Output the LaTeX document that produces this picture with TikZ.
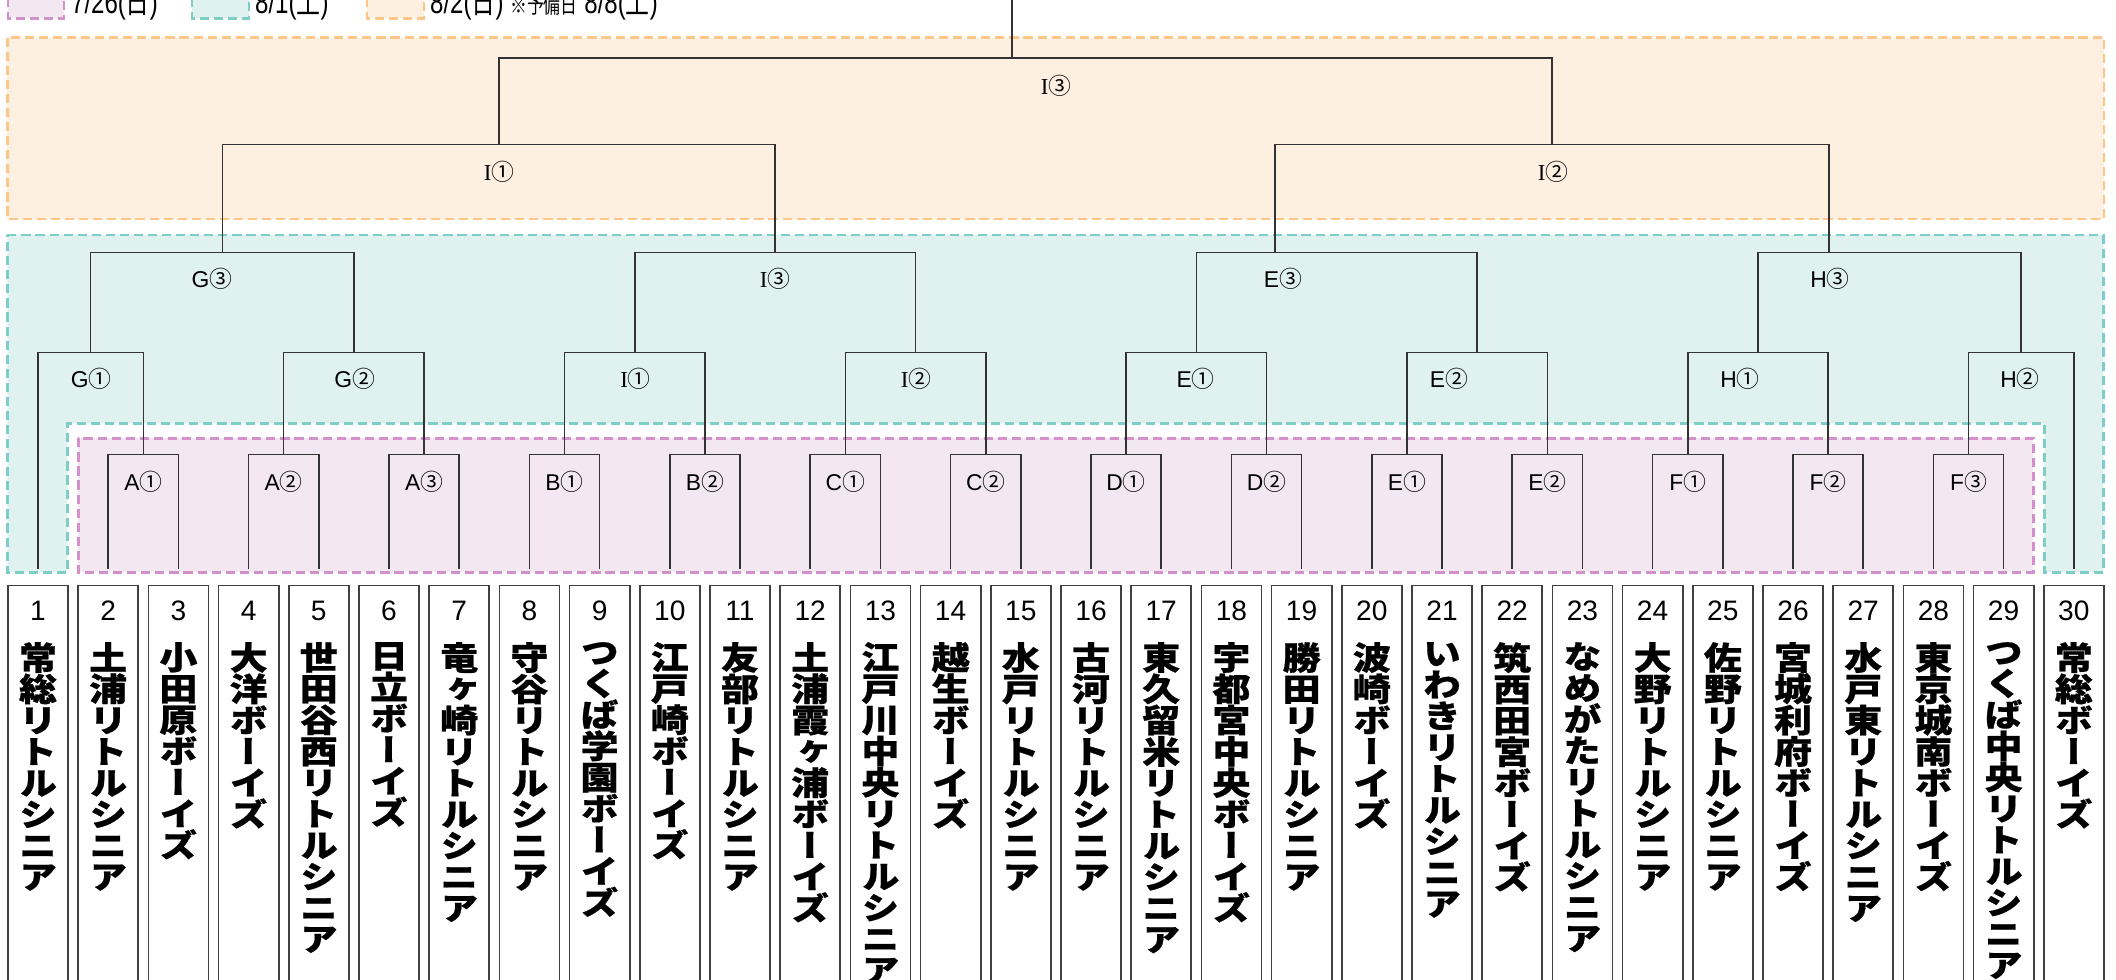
\documentclass[tikz,border=0pt]{standalone}
\usepackage{graphicx}
\usepackage{fontspec}
\setmainfont{Liberation Sans}
\newfontfamily\cjk{Noto Sans CJK JP}
\newfontfamily\tatefont{Noto Sans CJK JP}[RawFeature=+vert, BoldFeatures={FakeBold=0.6}]
\newfontfamily\romfont{Liberation Serif}
\newfontfamily\legendfont{Liberation Sans}[FakeStretch=0.75]
\newfontfamily\legendcjk{Noto Sans CJK JP}[FakeStretch=0.75]
\usetikzlibrary{positioning}

\definecolor{pinkline}{HTML}{D291C8}
\definecolor{pinkfill}{HTML}{F3E8F2}
\definecolor{tealline}{HTML}{7DCFC6}
\definecolor{tealfill}{HTML}{E0F2F0}
\definecolor{orangeline}{HTML}{FFC68A}
\definecolor{orangefill}{HTML}{FEF0E1}

% team names are set one character under the other
\makeatletter
\newcommand\tate[1]{\edef\tate@list{#1}\def\tate@go{\@tfor\tate@c:=}%
  \vtop{\baselineskip=8.9pt\lineskiplimit=-20pt\lineskip=0pt
    \expandafter\tate@go\tate@list\do{\hbox to 11pt{\hss\scalebox{1}[0.85]{\tate@c}\hss}}}}
\makeatother
\newcommand\rI{{\romfont I}}
\newcommand\cn[1]{{\cjk #1}}

\tikzstyle{team} = [rectangle, draw=black!75, line width=0.5pt, minimum width=0.6cm, minimum height=4.2cm, anchor=north, inner sep=0pt]
\tikzstyle{num} = [inner sep=0pt, text height=5.7pt, text depth=0pt, font=\fontsize{8}{9}\selectfont]
\tikzstyle{tname} = [inner sep=0pt, font=\tatefont\bfseries\fontsize{10.8}{12}\selectfont]
\tikzstyle{lab} = [inner sep=0pt, font=\fontsize{6.5}{7}\selectfont]
\tikzstyle{bline} = [draw=black!80, line width=0.45pt]
\tikzstyle{band} = [line width=0.75pt, dash pattern=on 2.6pt off 1.4pt]
\tikzstyle{legend} = [anchor=base west, inner sep=0pt, font=\legendfont\fontsize{9.1}{10}\selectfont]

\begin{document}
\begin{tikzpicture}[x=0.01cm, y=-0.01cm]
	\useasboundingbox (0,0) rectangle (2116,980);
	
	% date bands
	\filldraw [band, draw=orangeline, fill=orangefill] (7.3,37.7) rectangle (2104,219);
	\filldraw [band, draw=tealline, fill=tealfill] (7.3,235) -- (2103.3,235) -- (2103.3,572.3) -- (2044.3,572.3) -- (2044.3,423.3) -- (67.7,423.3) -- (67.7,572.3) -- (7.3,572.3) -- cycle;
	\filldraw [band, draw=pinkline, fill=pinkfill] (78.3,438.3) rectangle (2033.3,572.3);
	
	% legend
	\filldraw [band, draw=pinkline, fill=pinkfill] (8,-30) rectangle (64,18.3);
	\node (day1) [legend] at (70.5,14) {7/26({\legendcjk 日})};
	\filldraw [band, draw=tealline, fill=tealfill] (192,-30) rectangle (249,18.3);
	\node (day2) [legend] at (254.5,14) {8/1({\legendcjk 土})};
	\filldraw [band, draw=orangeline, fill=orangefill] (367,-30) rectangle (424,18.3);
	\node (day3) [legend] at (429.5,14) {8/2({\legendcjk 日}) {\legendcjk\fontsize{6.4}{7}\selectfont ※予備日} 8/8({\legendcjk 土})};
	
	% teams
	\foreach \nm [count=\i] in {常総リトルシニア, 土浦リトルシニア, 小田原ボーイズ, 大洋ボーイズ, 世田谷西リトルシニア, 日立ボーイズ, 竜ヶ崎リトルシニア, 守谷リトルシニア, つくば学園ボーイズ, 江戸崎ボーイズ, 友部リトルシニア, 土浦霞ヶ浦ボーイズ, 江戸川中央リトルシニア, 越生ボーイズ, 水戸リトルシニア, 古河リトルシニア, 東久留米リトルシニア, 宇都宮中央ボーイズ, 勝田リトルシニア, 波崎ボーイズ, いわきリトルシニア, 筑西田宮ボーイズ, なめがたリトルシニア, 大野リトルシニア, 佐野リトルシニア, 宮城利府ボーイズ, 水戸東リトルシニア, 東京城南ボーイズ, つくば中央リトルシニア, 常総ボーイズ} {
		\node (t\i) [team] at ({38+(\i-1)*70.2},584.7) {};
		\node (n\i) [num, below=4.35pt of t\i.north] {\i};
		\node (w\i) [tname, below=5.7pt of n\i] {\tate{\nm}};
		\coordinate (p\i) at ({38+(\i-1)*70.2},569.3);
	}
	
	% 7/26
	\coordinate (pA1) at (143.3,454.3);
	\coordinate (pA2) at (283.7,454.3);
	\coordinate (pA3) at (424.1,454.3);
	\coordinate (pB1) at (564.5,454.3);
	\coordinate (pB2) at (704.9,454.3);
	\coordinate (pC1) at (845.3,454.3);
	\coordinate (pC2) at (985.7,454.3);
	\coordinate (pD1) at (1126.1,454.3);
	\coordinate (pD2) at (1266.5,454.3);
	\coordinate (pE1) at (1406.9,454.3);
	\coordinate (pE2) at (1547.3,454.3);
	\coordinate (pF1) at (1687.7,454.3);
	\coordinate (pF2) at (1828.1,454.3);
	\coordinate (pF3) at (1968.5,454.3);
	\draw [bline] (p2) |- (pA1) -| (p3);
	\draw [bline] (p4) |- (pA2) -| (p5);
	\draw [bline] (p6) |- (pA3) -| (p7);
	\draw [bline] (p8) |- (pB1) -| (p9);
	\draw [bline] (p10) |- (pB2) -| (p11);
	\draw [bline] (p12) |- (pC1) -| (p13);
	\draw [bline] (p14) |- (pC2) -| (p15);
	\draw [bline] (p16) |- (pD1) -| (p17);
	\draw [bline] (p18) |- (pD2) -| (p19);
	\draw [bline] (p20) |- (pE1) -| (p21);
	\draw [bline] (p22) |- (pE2) -| (p23);
	\draw [bline] (p24) |- (pF1) -| (p25);
	\draw [bline] (p26) |- (pF2) -| (p27);
	\draw [bline] (p28) |- (pF3) -| (p29);
	\node (lpA1) [lab] at (143.3,481.7) {A\cn{①}};
	\node (lpA2) [lab] at (283.7,481.7) {A\cn{②}};
	\node (lpA3) [lab] at (424.1,481.7) {A\cn{③}};
	\node (lpB1) [lab] at (564.5,481.7) {B\cn{①}};
	\node (lpB2) [lab] at (704.9,481.7) {B\cn{②}};
	\node (lpC1) [lab] at (845.3,481.7) {C\cn{①}};
	\node (lpC2) [lab] at (985.7,481.7) {C\cn{②}};
	\node (lpD1) [lab] at (1126.1,481.7) {D\cn{①}};
	\node (lpD2) [lab] at (1266.5,481.7) {D\cn{②}};
	\node (lpE1) [lab] at (1406.9,481.7) {E\cn{①}};
	\node (lpE2) [lab] at (1547.3,481.7) {E\cn{②}};
	\node (lpF1) [lab] at (1687.7,481.7) {F\cn{①}};
	\node (lpF2) [lab] at (1828.1,481.7) {F\cn{②}};
	\node (lpF3) [lab] at (1968.5,481.7) {F\cn{③}};
	
	% 8/1
	\coordinate (tG1) at (90.7,352.3);
	\coordinate (tG2) at (353.9,352.3);
	\coordinate (tI1) at (634.7,352.3);
	\coordinate (tI2) at (915.5,352.3);
	\coordinate (tE1) at (1196.3,352.3);
	\coordinate (tE2) at (1477.1,352.3);
	\coordinate (tH1) at (1757.9,352.3);
	\coordinate (tH2) at (2021.2,352.3);
	\draw [bline] (p1) |- (tG1) -| (pA1);
	\draw [bline] (pA2) |- (tG2) -| (pA3);
	\draw [bline] (pB1) |- (tI1) -| (pB2);
	\draw [bline] (pC1) |- (tI2) -| (pC2);
	\draw [bline] (pD1) |- (tE1) -| (pD2);
	\draw [bline] (pE1) |- (tE2) -| (pE2);
	\draw [bline] (pF1) |- (tH1) -| (pF2);
	\draw [bline] (pF3) |- (tH2) -| (p30);
	\node (ltG1) [lab] at (91.3,379.3) {G\cn{①}};
	\node (ltG2) [lab] at (354.7,379.3) {G\cn{②}};
	\node (ltI1) [lab] at (635.6,379.3) {\rI\cn{①}};
	\node (ltI2) [lab] at (916,379.3) {\rI\cn{②}};
	\node (ltE1) [lab] at (1195.7,379.3) {E\cn{①}};
	\node (ltE2) [lab] at (1449,379.3) {E\cn{②}};
	\node (ltH1) [lab] at (1740,379.3) {H\cn{①}};
	\node (ltH2) [lab] at (2020,379.3) {H\cn{②}};
	
	\coordinate (tG3) at (222.3,252.4);
	\coordinate (tI3) at (775.1,252.4);
	\coordinate (tE3) at (1275,252.4);
	\coordinate (tH3) at (1829,252.4);
	\draw [bline] (tG1) |- (tG3) -| (tG2);
	\draw [bline] (tI1) |- (tI3) -| (tI2);
	\draw [bline] (tE1) |- (tE3) -| (tE2);
	\draw [bline] (tH1) |- (tH3) -| (tH2);
	\node (ltG3) [lab] at (212,279.3) {G\cn{③}};
	\node (ltI3) [lab] at (775,279.3) {\rI\cn{③}};
	\node (ltE3) [lab] at (1283,279.3) {E\cn{③}};
	\node (ltH3) [lab] at (1830,279.3) {H\cn{③}};
	
	% 8/2
	\coordinate (oI1) at (498.7,144.4);
	\coordinate (oI2) at (1552,144.4);
	\coordinate (oI3) at (1012,58.3);
	\coordinate (champ) at (1012,-5);
	\draw [bline] (tG3) |- (oI1) -| (tI3);
	\draw [bline] (tE3) |- (oI2) -| (tH3);
	\draw [bline] (oI1) |- (oI3) -| (oI2);
	\draw [bline] (oI3) -- (champ);
	\node (loI1) [lab] at (499,171.5) {\rI\cn{①}};
	\node (loI2) [lab] at (1553,171.5) {\rI\cn{②}};
	\node (loI3) [lab] at (1056,86) {\rI\cn{③}};
	
\end{tikzpicture}
\end{document}
